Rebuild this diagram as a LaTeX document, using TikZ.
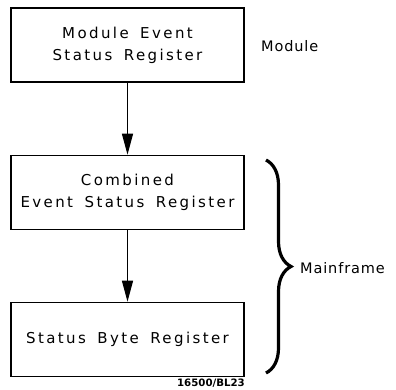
\documentclass[tikz,border=0pt]{standalone}
\usepackage{fontspec}
\newfontfamily\plotfont[LetterSpace=16,WordSpace=1.6]{DejaVu Sans}
\newfontfamily\sidefont[LetterSpace=6]{DejaVu Sans}
\newfontfamily\tagfont{DejaVu Sans}
\usetikzlibrary{arrows.meta,decorations.pathreplacing}

\tikzset{
  regbox/.style={draw, line width=1.6pt, minimum width=233pt, minimum height=74pt,
    align=center, font=\plotfont\fontsize{15}{22}\selectfont},
  flow/.style={line width=1.3pt, -{Triangle[length=21pt,width=11pt]}},
  sidelabel/.style={anchor=west, inner sep=0pt, font=\sidefont\fontsize{14.5}{22}\selectfont},
  figtag/.style={anchor=east, inner sep=0pt, font=\tagfont\bfseries\fontsize{10.2}{11}\selectfont}
}

\begin{document}
\begin{tikzpicture}[x=1pt,y=-1pt]
    \useasboundingbox (0,0) rectangle (396,389);
    \node[regbox] (mesr) at (127.5,45) {Module Event\\Status Register};
    \node[regbox] (cesr) at (127.5,192.5) {Combined\\Event Status Register};
    \node[regbox] (sbr) at (127.5,339.5) {Status Byte Register};
    \draw[flow] (mesr) -- (cesr);
    \draw[flow] (cesr) -- (sbr);
    \node[sidelabel] (modlbl) at (261,46) {Module};
    % brace round the two mainframe registers
    \coordinate (bracetop) at (266,160); \coordinate (bracebot) at (266,373);
    \draw[decorate, decoration={brace, amplitude=25pt}, line width=3.2pt] (bracetop) -- (bracebot);
    \node[sidelabel] (mainlbl) at (300,268) {Mainframe};
    \node[figtag] (figno) at (245,383) {16500/BL23};
\end{tikzpicture}
\end{document}
